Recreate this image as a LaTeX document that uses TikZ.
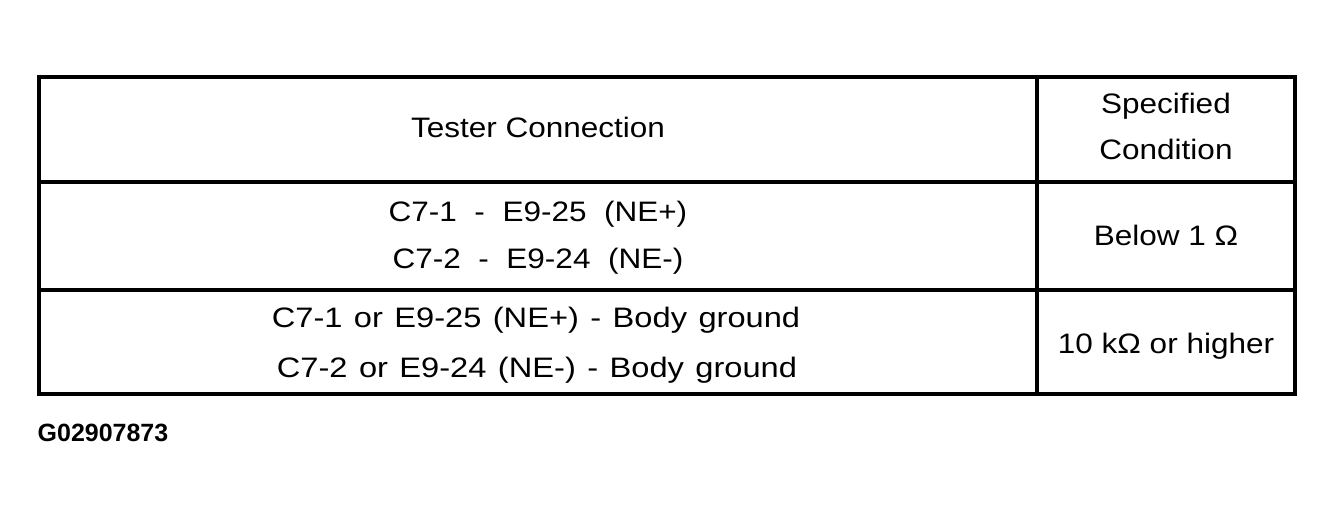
\documentclass[tikz,border=0pt]{standalone}
\usepackage{fontspec}
\setmainfont[FakeStretch=1.12]{Liberation Sans}
\newfontfamily\codefont{Liberation Sans}
\usetikzlibrary{positioning}

\begin{document}
\begin{tikzpicture}[x=0.01cm, y=-0.01cm,
  rule/.style={line width=1pt, line cap=rect},
  cell/.style={anchor=base, inner sep=0pt, font=\fontsize{8}{9.6}\selectfont},
  widecell/.style={cell, font=\fontsize{8}{9.6}\selectfont\addfontfeature{FakeStretch=1.16},
    execute at begin node={\spaceskip=3.25pt\relax}},
  figno/.style={anchor=base west, inner sep=0pt, font=\codefont\fontsize{7.1}{8.5}\selectfont\bfseries}]

\useasboundingbox (0,0) rectangle (1335,516);

% table frame
\draw[rule] (39,77) rectangle (1295,394);
\draw[rule] (39,182) -- (1295,182);
\draw[rule] (39,290) -- (1295,290);
\draw[rule] (1037,77) -- (1037,394);

% header
\node[cell] (tester) at (538,138) {Tester Connection};
\node[cell] (spec1) at (1166,114) {Specified};
\node[cell] (spec2) at (1166,160) {Condition};

% row 1
\node[cell] (conA) at (538,222) {C7-1\ \ -\ \ E9-25\ \ (NE+)};
\node[cell] (conB) at (538,269) {C7-2\ \ -\ \ E9-24\ \ (NE-)};
\node[cell] (below) at (1166,246) {Below 1 Ω};

% row 2
\node[widecell] (gndA) at (536,328) {C7-1 or E9-25 (NE+) - Body ground};
\node[widecell] (gndB) at (537,378) {C7-2 or E9-24 (NE-) - Body ground};
\node[cell] (higher) at (1166,354) {10 kΩ or higher};

\node[figno] (code) at (37,442) {G02907873};
\end{tikzpicture}
\end{document}
